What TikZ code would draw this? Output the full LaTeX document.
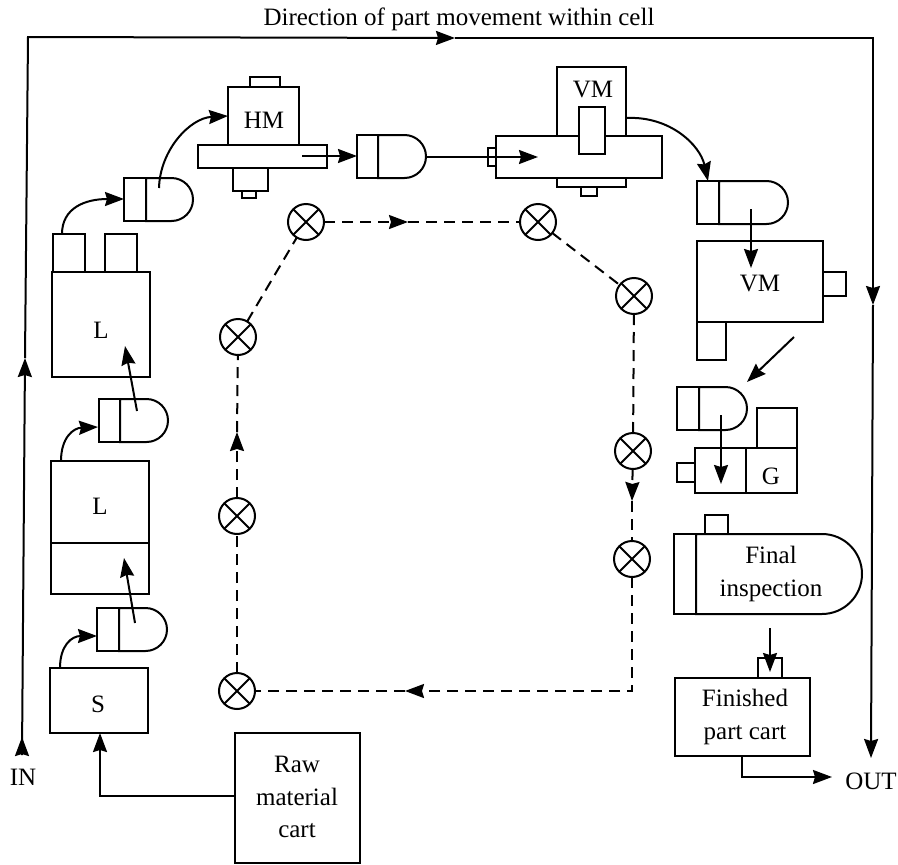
\documentclass[tikz,border=0pt]{standalone}
\usepackage{fontspec}
\setmainfont{Liberation Serif}
\usetikzlibrary{arrows.meta,shapes.misc}
\newcommand{\bx}[6][]{% name x1 y1 x2 y2
  \node[boxstyle,minimum width={(#5-#3)*1pt},minimum height={(#6-#4)*1pt},#1] (#2) at ({(#3+#5)/2},{(#4+#6)/2}) {};}
\newcommand{\robot}[5]{% name x1 div x2 y1; height 43
  \bx{#1a}{#2}{#5}{#3}{#5+43}
  \node[bodystyle,minimum width={(#4-#3)*1pt},minimum height=43pt] (#1b) at ({(#3+#4)/2},{#5+21.5}) {};}
\tikzset{
  every node/.style={font=\fontsize{25}{32.5}\selectfont},
  boxstyle/.style={draw,line width=2pt,inner sep=0pt,outer sep=0pt,fill=white},
  bodystyle/.style={draw,line width=2pt,rounded rectangle,rounded rectangle west arc=none,inner sep=0pt,outer sep=0pt,fill=white},
  flow/.style={line width=2pt},
  arr/.style={flow,-{Stealth[length=19pt,width=14pt,inset=2pt]}},
  dashline/.style={line width=2pt,dash pattern=on 11pt off 7pt},
  darr/.style={dashline,-{Stealth[length=19pt,width=14pt,inset=2pt]}},
  station/.style={draw,circle,cross out,line width=2pt,minimum size=26pt,inner sep=0pt,outer sep=0pt},
  ring/.style={draw,circle,line width=2pt,minimum size=36pt,inner sep=0pt,outer sep=0pt},
  label/.style={inner sep=0pt,align=center},
}
\begin{document}
\begin{tikzpicture}[x=1pt,y=-1pt]
\useasboundingbox (0,0) rectangle (898,865);
% outer flow
\node[label] (title) at (459,19) {Direction of part movement within cell};
\node[label] (in) at (23,777) {IN};
\node[label] (out) at (871,781) {OUT};
\coordinate (instart) at (22,755);
\coordinate (inmid) at (25,358);
\coordinate (corner1) at (28,37);
\coordinate (topmid) at (455,38);
\coordinate (corner2) at (873,38);
\coordinate (rmid) at (873,305);
\coordinate (outend) at (871,758);
\draw[arr] (instart) -- (inmid);
\draw[arr] (inmid) -- (corner1) -- (topmid);
\draw[arr] (topmid) -- (corner2) -- (rmid);
\draw[arr] (rmid) -- (outend);
\coordinate (instub) at (22,737);
\draw[arr] (instart) -- (instub);
% dashed loop
\foreach \n/\x/\y in {c1/306/222,c2/538/222,c3/634/296,c4/633/451,c5/632/559,c6/237/691,c7/237/516,c8/238/337}{
  \node[ring] (\n) at (\x,\y) {};
  \node[station] at (\x,\y) {};
}
\coordinate (m1) at (408,222);
\draw[darr] (c1) -- (m1);
\draw[dashline] (m1) -- (c2);
\draw[dashline] (c2) -- (c3);
\draw[dashline] (c3) -- (c4);
\coordinate (m2) at (632,501);
\draw[darr] (c4) -- (m2);
\draw[dashline] (m2) -- (c5);
\coordinate (cr) at (632,691);
\coordinate (m3) at (405,691);
\draw[darr] (c5) -- (cr) -- (m3);
\draw[dashline] (m3) -- (c6);
\draw[dashline] (c6) -- (c7);
\coordinate (m4) at (237,432);
\draw[darr] (c7) -- (m4);
\draw[dashline] (m4) -- (c8);
\draw[dashline] (c8) -- (c1);
% S and raw material
\bx{s}{50}{668}{148}{733}
\node[label] (stext) at (98,704) {S};
\bx{raw}{235}{733}{360}{863}
\node[label] (rawtext) at (297,797) {Raw\\material\\cart};
\coordinate (rawturn) at (100,796);
\draw[arr] (raw.west |- rawturn) -- (rawturn) -- (rawturn |- s.south);
% L lower
\bx{ltwo}{51}{461}{149}{594}
\bx{ltwob}{51}{543}{149}{594}
\node[label] (ltwotext) at (100,506) {L};
% L upper
\bx{lone}{52}{272}{150}{377}
\bx{lonea}{53}{234}{85}{272}
\bx{loneb}{105}{234}{137}{272}
\node[label] (lonetext) at (101,330) {L};
% robots
\robot{rs}{97}{119}{167}{608}
\robot{rl}{99}{120}{168}{399}
\robot{ra}{124}{146}{193}{178}
\robot{rh}{357}{378}{426}{135}
\robot{rv}{697}{719}{788}{181}
\robot{rg}{677}{699}{747}{387}
% HM
\bx{hmtop}{250}{77}{280}{87}
\bx{hmlow}{233}{168}{268}{191}
\bx{hmfoot}{242}{191}{256}{198}
\bx{hmhead}{228}{87}{299}{145}
\bx{hmtable}{198}{145}{327}{168}
\node[label] (hmtext) at (264,120) {HM};
% VM 1
\bx{vmfoot}{581}{187}{597}{196}
\bx{vmlow}{557}{178}{626}{187}
\bx{vmhead}{557}{67}{626}{136}
\bx{vmtable}{496}{136}{662}{178}
\bx{vmspindle}{579}{107}{605}{154}
\bx{vmstub}{488}{148}{496}{166}
\node[label] (vmtext) at (593,90) {VM};
% VM 2
\bx{wmain}{697}{241}{823}{322}
\bx{wright}{823}{272}{846}{296}
\bx{wlow}{697}{322}{726}{360}
\node[label] (wtext) at (760,284) {VM};
% G
\bx{gtop}{757}{408}{797}{448}
\bx{gleft}{695}{448}{746}{493}
\bx{gright}{746}{448}{797}{493}
\bx{gstub}{677}{463}{695}{482}
\node[label] (gtext) at (771,476) {G};
% final inspection
\bx{fitop}{705}{515}{728}{534}
\node[bodystyle,minimum width=166pt,minimum height=80pt] (fibody) at (779,574) {};
\bx{fileft}{674}{534}{696}{614}
\node[label] (fitext) at (771,574) {Final\\inspection};
% finished part cart
\bx{fptop}{758}{658}{782}{678}
\bx{fp}{675}{678}{810}{756}
\node[label] (fptext) at (745,717) {Finished\\part cart};
% connectors
\coordinate (a1) at (60,668); \coordinate (a1t) at (97,636);
\draw[arr] (a1) .. controls (60,645) and (72,636) .. (a1t);
\coordinate (a2) at (135,623); \coordinate (a2t) at (124,558);
\draw[arr] (a2) -- (a2t);
\coordinate (a3) at (61,461); \coordinate (a3t) at (98,427);
\draw[arr] (a3) .. controls (61,438) and (73,428) .. (a3t);
\coordinate (a4) at (137,411); \coordinate (a4t) at (125,346);
\draw[arr] (a4) -- (a4t);
\coordinate (a5) at (62,234); \coordinate (a5t) at (124,199);
\draw[arr] (a5) .. controls (62,208) and (85,199) .. (a5t);
\coordinate (a6) at (159,188); \coordinate (a6t) at (228,116);
\draw[arr] (a6) .. controls (160,150) and (190,118) .. (a6t);
\coordinate (a7) at (302,156); \coordinate (a7t) at (357,156);
\draw[arr] (a7) -- (a7t);
\coordinate (a8) at (426,157); \coordinate (a8t) at (538,157);
\draw[arr] (a8) -- (a8t);
\coordinate (a9) at (627,118); \coordinate (a9t) at (708,181);
\draw[arr] (a9) .. controls (670,116) and (700,145) .. (a9t);
\coordinate (a10) at (751,209); \coordinate (a10t) at (751,268);
\draw[arr] (a10) -- (a10t);
\coordinate (a11) at (794,337); \coordinate (a11t) at (747,382);
\draw[arr] (a11) -- (a11t);
\coordinate (a12) at (721,415); \coordinate (a12t) at (721,484);
\draw[arr] (a12) -- (a12t);
\coordinate (a13) at (770,628); \coordinate (a13t) at (770,672);
\draw[arr] (a13) -- (a13t);
\coordinate (a14) at (742,756); \coordinate (a14c) at (742,777); \coordinate (a14t) at (832,777);
\draw[arr] (a14) -- (a14c) -- (a14t);
\end{tikzpicture}
\end{document}
